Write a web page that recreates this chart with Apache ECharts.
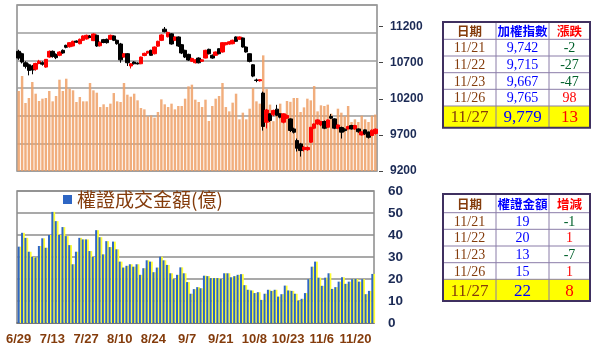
<!DOCTYPE html>
<html><head><meta charset="utf-8">
<script src="https://cdn.jsdelivr.net/npm/echarts@6/dist/echarts.min.js"></script>
<style>html,body{margin:0;padding:0;background:#fff}#c{width:600px;height:350px}</style>
</head><body><div id="c"></div>
<script>
const dates = ['6/29',
'7/2','7/3','7/4','7/5','7/6','7/9','7/10','7/11','7/12','7/13',
'7/16','7/17','7/18','7/19','7/20','7/23','7/24','7/25','7/26','7/27',
'7/30','7/31','8/1','8/2','8/3','8/6','8/7','8/8','8/9','8/10',
'8/13','8/14','8/15','8/16','8/17','8/20','8/21','8/22','8/23','8/24',
'8/27','8/28','8/29','8/30','8/31','9/3','9/4','9/5','9/6','9/7',
'9/10','9/11','9/12','9/13','9/14','9/17','9/18','9/19','9/20','9/21',
'9/25','9/26','9/27','9/28','10/1','10/2','10/3','10/4','10/5',
'10/8','10/9','10/11','10/12','10/15','10/16','10/17','10/18','10/19',
'10/22','10/23','10/24','10/25','10/26','10/29','10/30','10/31','11/1','11/2',
'11/5','11/6','11/7','11/8','11/9','11/12','11/13','11/14','11/15','11/16',
'11/19','11/20','11/21','11/22','11/23','11/26','11/27'];

const openP = [10858,10825,10700,10672,10655,10610,10690,10700,10640,10779,
10858,10816,10803,10872,10941,10922,10932,11000,10964,11011,
11030,11070,11006,11080,10935,11020,11025,11025,11071,11011,
10960,10779,10825,10655,10710,10695,10686,10800,10835,10872,
10825,10930,11010,11165,11060,11100,11011,11057,10950,10872,
10816,10720,10700,10765,10720,10765,10886,10803,10803,10894,
10849,10950,10960,10964,11057,11025,11043,10918,10825,10672,
10460,10450,10280,9876,9992,9978,10057,9992,9876,9932,
9922,9783,9622,9575,9497,9495,9598,9793,9852,9838,
9886,9806,9955,9922,9793,9803,9780,9783,9830,9783,
9783,9700,9770,9740,9692,9720];

const closeP = [10765,10710,10650,10594,10600,10690,10720,10680,10747,10858,
10788,10770,10849,10835,10914,10978,10997,10985,11025,11071,
11080,11050,11099,10932,10985,10980,10978,11080,11011,10964,
10740,10825,10700,10686,10686,10685,10779,10830,10858,10803,
10918,10997,11085,11130,11120,10960,11057,10932,10835,10779,
10737,10760,10740,10700,10740,10872,10825,10765,10849,10825,
10978,10978,10990,11011,10997,11057,10918,10849,10719,10515,
10455,10465,9817,10045,9900,10039,9973,9946,9992,9970,
9761,9737,9515,9483,9529,9525,9806,9852,9908,9886,
9793,9908,9932,9793,9838,9738,9760,9817,9783,9830,
9744,9742,9715,9667,9765,9779];

const lowP = [10740,10690,10620,10525,10540,10590,10680,10660,10630,10770,
10770,10750,10790,10825,10900,10910,10925,10975,10955,11000,
11020,11040,11000,10920,10925,10970,10965,11015,11000,10950,
10700,10770,10655,10620,10675,10675,10680,10790,10825,10795,
10815,10920,11000,11120,11050,10950,11000,10920,10820,10765,
10725,10710,10690,10690,10710,10760,10815,10755,10795,10815,
10840,10940,10950,10955,10990,11015,10910,10840,10705,10500,
10430,10440,9760,9790,9880,9960,9960,9930,9860,9920,
9740,9720,9470,9400,9470,9480,9590,9780,9840,9820,
9780,9800,9920,9780,9780,9650,9745,9775,9775,9770,
9730,9690,9700,9650,9690,9705];

const highP = [10880,10840,10720,10690,10670,10700,10740,10720,10750,10870,
10870,10830,10860,10885,10950,10985,11005,11010,11035,11080,
11090,11085,11110,11090,10995,11030,11035,11090,11080,11020,
10975,10835,10835,10695,10720,10705,10785,10840,10865,10880,
10925,11005,11095,11195,11130,11110,11065,11065,10960,10880,
10825,10770,10750,10775,10750,10880,10895,10815,10855,10900,
10985,10985,11000,11020,11065,11065,11050,10925,10830,10680,
10480,10470,10300,10060,10000,10050,10117,10000,10000,9985,
9930,9800,9650,9590,9545,9540,9810,9860,9915,9895,
9900,9915,9990,9930,9845,9815,9790,9825,9840,9840,
9790,9750,9775,9745,9775,9790];

const volume = [1446,1717,1229,1319,1608,1397,1265,1307,1319,1446,
1259,1355,1650,1446,1668,1487,1458,1247,1337,1259,
1259,1590,1458,1415,1156,1205,1156,1217,1409,1259,
1247,1590,1379,1343,1397,1277,1138,1114,988,1006,
964,1066,1295,1205,1156,1217,1114,1175,1175,1307,
1530,1560,1289,1247,1156,1289,904,1175,1307,1355,
1590,1156,1078,1235,1397,934,1054,934,1126,1500,
1259,1217,2090,1480,1200,900,1100,1217,1036,1265,
1250,1319,1319,1066,1150,1307,1277,1536,1078,1187,
1175,1199,1036,946,1126,1054,988,1175,885,934,
885,1000,934,885,1000,1020];

const warrant = [34.7,41,38.7,32.4,30,29.7,35,38.5,34.2,40,
50.5,46.3,40,43.6,39.5,35.4,26.7,32.4,38.7,38,
38,32.7,30,42.2,39,31.2,37.2,34.5,37,33.5,
27.9,25.2,26,26.7,25.6,26.7,21.9,24.9,28.5,27.9,
23.1,25.2,30.1,28.5,26.4,22.6,19.9,21.9,25.3,22.6,
18.6,13.3,15.4,16.3,15.8,21.5,21.3,20.4,20.4,20.4,
20.0,22.6,22.6,20.8,21.3,21.9,22.2,17.2,15.1,14.8,
13.6,14.0,10.5,13.3,15.1,14.6,15.1,12.0,13.1,17.0,
14.8,14.6,13.3,10.1,11.0,13.6,19.9,25.6,27.9,20.6,
16.9,20.6,22.6,15.5,16.3,18.8,20.8,17.8,18.8,19.9,
20.0,18.8,19.9,13.1,14.6,22.3];

const priceTicks = [9200, 9700, 10200, 10700, 11200];
const warrantName = '權證成交金額(億)';

const tblDates = ['11/21','11/22','11/23','11/26','11/27'];
const idxHeaders = ['日期','加權指數','漲跌'];
const idxValues = ['9,742','9,715','9,667','9,765','9,779'];
const idxChanges = [-2,-27,-47,98,13];
const wHeaders = ['日期','權證金額','增減'];
const wValues = ['19','20','13','15','22'];
const wChanges = [-1,1,-7,1,8];

const colX = [443, 496, 549, 590];
const headColors = ['#843C0C','#0000FF','#FF0000'];
function buildTable(rY, headers, vals, chgs) {
  const els = [];
  els.push({type:'rect', shape:{x:colX[0], y:rY[5], width:colX[3]-colX[0], height:rY[6]-rY[5]}, style:{fill:'#FFFF00'}});
  for (let i = 1; i < 6; i++) {
    els.push({type:'line', shape:{x1:colX[0], y1:rY[i], x2:colX[3], y2:rY[i]}, style:{stroke:'#8A7CA8', lineWidth:1}});
  }
  for (let j = 1; j < 3; j++) {
    els.push({type:'line', shape:{x1:colX[j], y1:rY[0], x2:colX[j], y2:rY[6]}, style:{stroke:'#8A7CA8', lineWidth:1}});
  }
  els.push({type:'rect', shape:{x:colX[0], y:rY[0], width:colX[3]-colX[0], height:rY[6]-rY[0]}, style:{fill:'none', stroke:'#3F3060', lineWidth:2}});
  for (let j = 0; j < 3; j++) {
    els.push({type:'text', style:{text:headers[j], x:(colX[j]+colX[j+1])/2, y:(rY[0]+rY[1])/2+1, textAlign:'center', textVerticalAlign:'middle', fill:headColors[j], font:'bold 12.5px "Noto Sans CJK TC"'}});
  }
  for (let i = 0; i < 5; i++) {
    const big = i === 4;
    const font = (big ? '17px' : '14px') + ' "Liberation Serif"';
    const cy = (rY[i+1]+rY[i+2])/2 + 1;
    const chgColor = chgs[i] < 0 ? '#00602B' : '#FF0000';
    els.push({type:'text', style:{text:tblDates[i], x:(colX[0]+colX[1])/2, y:cy, textAlign:'center', textVerticalAlign:'middle', fill:'#843C0C', font}});
    els.push({type:'text', style:{text:vals[i], x:(colX[1]+colX[2])/2, y:cy, textAlign:'center', textVerticalAlign:'middle', fill:'#0000FF', font}});
    els.push({type:'text', style:{text:String(chgs[i]), x:(colX[2]+colX[3])/2, y:cy, textAlign:'center', textVerticalAlign:'middle', fill:chgColor, font}});
  }
  return els;
}

const candleData = openP.map((o, i) => [o, closeP[i], lowP[i], highP[i]]);

const chart = echarts.init(document.getElementById('c'), null, {renderer:'canvas'});
chart.setOption({
  animation: false,
  backgroundColor: '#ffffff',
  legend: {
    data: [warrantName], left: 63, top: 190, padding: 0, icon: 'rect', itemWidth: 9, itemHeight: 9,
    selectedMode: false,
    textStyle: {fontSize: 19, color: '#843C0C', fontFamily: '"Noto Sans CJK TC"'}
  },
  grid: [
    {left: 17, top: 5, width: 360, height: 166, show: true, borderColor: '#8a8a8a', borderWidth: 1.5},
    {left: 17, top: 191, width: 357, height: 132, show: true, borderColor: '#8a8a8a', borderWidth: 1.5}
  ],
  xAxis: [
    {type: 'category', gridIndex: 0, data: dates, show: false},
    {type: 'category', gridIndex: 1, data: dates,
     axisLine: {lineStyle: {color: '#6f6f6f', width: 1.5}},
     axisTick: {interval: 0, length: 3, lineStyle: {color: '#aaaaaa'}},
     axisLabel: {interval: 9, color: '#843C0C', fontWeight: 'bold', fontSize: 13, fontFamily: '"Liberation Sans"', margin: 10}}
  ],
  yAxis: [
    {type: 'value', gridIndex: 0, position: 'right', min: 9200, max: 11500, offset: 2,
     axisLine: {show: false},
     axisTick: {show: true, customValues: priceTicks, length: 4, lineStyle: {color: '#444'}},
     axisLabel: {customValues: priceTicks, formatter: v => String(v), margin: 11, color: '#1B2A55', fontWeight: 'bold', fontSize: 12, fontFamily: '"Liberation Sans"'},
     splitLine: {show: false}},
    {type: 'value', gridIndex: 0, position: 'left', min: 0, max: 3000, interval: 500,
     axisLine: {show: false}, axisTick: {show: false}, axisLabel: {show: false},
     splitLine: {lineStyle: {color: '#9c9c9c', width: 1.5}}},
    {type: 'value', gridIndex: 1, position: 'right', min: 0, max: 60, interval: 10,
     axisLine: {show: false}, axisTick: {show: false},
     axisLabel: {margin: 14, color: '#1B2A55', fontWeight: 'bold', fontSize: 13.5, fontFamily: '"Liberation Sans"'},
     splitLine: {lineStyle: {color: '#8c8c8c', width: 1.5}}}
  ],
  series: [
    {type: 'bar', name: '成交量', xAxisIndex: 0, yAxisIndex: 1, data: volume, barWidth: '72%',
     itemStyle: {color: '#EEA066', opacity: 0.85}, z: 1},
    {type: 'candlestick', name: '加權指數', xAxisIndex: 0, yAxisIndex: 0, data: candleData, barWidth: 4,
     itemStyle: {color: '#FF0000', color0: '#000000', borderColor: '#FF0000', borderColor0: '#000000', borderWidth: 1}, z: 3},
    {type: 'bar', name: warrantName, xAxisIndex: 1, yAxisIndex: 2, data: warrant, barWidth: 2,
     itemStyle: {color: '#2E66C4', shadowColor: '#FFFF33', shadowOffsetX: 1.8, shadowOffsetY: 0, shadowBlur: 0}}
  ],
  graphic: buildTable([22, 39.3, 56, 72.7, 89.3, 106, 127.7], idxHeaders, idxValues, idxChanges)
    .concat(buildTable([194, 212.7, 229.3, 246, 262.7, 279.3, 301], wHeaders, wValues, wChanges))
});
</script></body></html>
